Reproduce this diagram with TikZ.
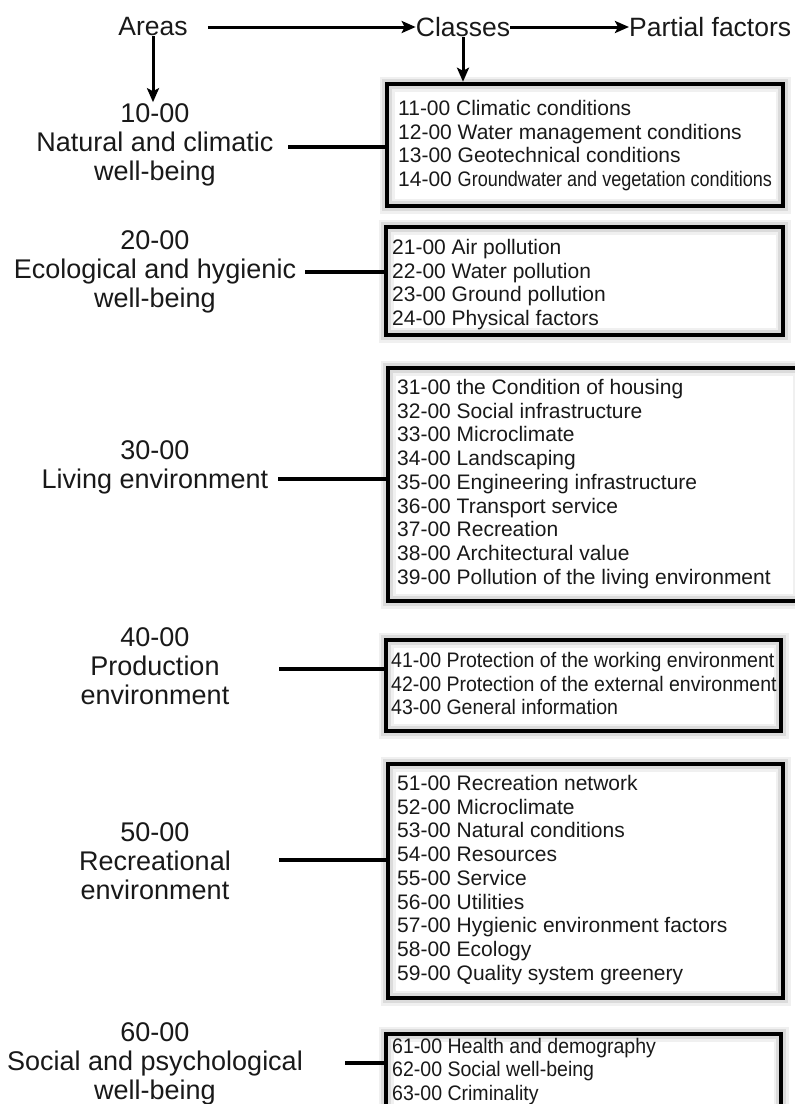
\documentclass[tikz,border=0pt]{standalone}
\usepackage{fontspec}
\setmainfont{Liberation Sans}
\newfontfamily\narrowsans[FakeStretch=0.93]{Liberation Sans}
\newfontfamily\tightsans[FakeStretch=0.86]{Liberation Sans}
\usetikzlibrary{arrows.meta, positioning}
\tikzstyle{head} = [inner sep=0, text=black!90, font=\fontsize{26.5}{30}\selectfont]
\tikzstyle{area} = [inner sep=0, anchor=base, text=black!90, font=\fontsize{27}{29}\selectfont]
\tikzstyle{classbox} = [rectangle, draw, line width=4.5pt, preaction={draw=black!6, line width=15pt}, preaction={draw=black!14, line width=9.5pt}]
\tikzstyle{classtext} = [inner sep=0, anchor=base west, text=black!90, font=\fontsize{21}{23.7}\selectfont]
\tikzstyle{link} = [line width=3.2pt]
\tikzstyle{flow} = [-{Stealth[length=14pt, width=12pt, inset=3pt]}, line width=3pt]

\begin{document}
\begin{tikzpicture}[x=1pt, y=-1pt]
  \path[use as bounding box, fill=white] (0,0) rectangle (795,1104);

  % 表头
  \node[head] (areas) at (153,27) {Areas};
  \node[head] (classes) at (463,27) {Classes};
  \node[head, anchor=west] (partial) at (629,27) {Partial factors};

  % 领域
  \node[area] (a1) at (155,122.7) {\begin{tabular}[t]{@{}c@{}}10-00\\ Natural and climatic\\ well-being\end{tabular}};
  \node[area] (a2) at (155,249.7) {\begin{tabular}[t]{@{}c@{}}20-00\\ Ecological and hygienic\\ well-being\end{tabular}};
  \node[area] (a3) at (155,459.7) {\begin{tabular}[t]{@{}c@{}}30-00\\ Living environment\end{tabular}};
  \node[area] (a4) at (155,646.7) {\begin{tabular}[t]{@{}c@{}}40-00\\ Production\\ environment\end{tabular}};
  \node[area] (a5) at (155,841.7) {\begin{tabular}[t]{@{}c@{}}50-00\\ Recreational\\ environment\end{tabular}};
  \node[area] (a6) at (155,1041.7) {\begin{tabular}[t]{@{}c@{}}60-00\\ Social and psychological\\ well-being\end{tabular}};

  % 类别框
  \node[classbox, minimum width=396pt, minimum height=122pt] (c1) at (585,145) {};
  \node[classbox, minimum width=397pt, minimum height=108pt] (c2) at (584.5,281) {};
  \node[classbox, minimum width=412pt, minimum height=233pt] (c3) at (594,484.5) {};
  \node[classbox, minimum width=395pt, minimum height=91pt] (c4) at (583.5,685.5) {};
  \node[classbox, minimum width=395pt, minimum height=234pt] (c5) at (585.5,881) {};
  \node[classbox, minimum width=395pt, minimum height=106pt] (c6) at (583.5,1087) {};

  \node[classtext] (t1) at (398,115.5) {\begin{tabular}[t]{@{}l@{}}11-00 Climatic conditions\\ 12-00 Water management conditions\\ 13-00 Geotechnical conditions\\ 14-00 {\tightsans Groundwater and vegetation conditions}\end{tabular}};
  \node[classtext] (t2) at (392,254.5) {\begin{tabular}[t]{@{}l@{}}21-00 Air pollution\\ 22-00 Water pollution\\ 23-00 Ground pollution\\ 24-00 Physical factors\end{tabular}};
  \node[classtext] (t3) at (397,394.5) {\begin{tabular}[t]{@{}l@{}}31-00 the Condition of housing\\ 32-00 Social infrastructure\\ 33-00 Microclimate\\ 34-00 Landscaping\\ 35-00 Engineering infrastructure\\ 36-00 Transport service\\ 37-00 Recreation\\ 38-00 Architectural value\\ 39-00 Pollution of the living environment\end{tabular}};
  \node[classtext] (t4) at (391,667.5) {\narrowsans\begin{tabular}[t]{@{}l@{}}41-00 Protection of the working environment\\ 42-00 Protection of the external environment\\ 43-00 General information\end{tabular}};
  \node[classtext] (t5) at (397,790.5) {\begin{tabular}[t]{@{}l@{}}51-00 Recreation network\\ 52-00 Microclimate\\ 53-00 Natural conditions\\ 54-00 Resources\\ 55-00 Service\\ 56-00 Utilities\\ 57-00 Hygienic environment factors\\ 58-00 Ecology\\ 59-00 Quality system greenery\end{tabular}};
  \node[classtext] (t6) at (392,1053) {\narrowsans\begin{tabular}[t]{@{}l@{}}61-00 Health and demography\\ 62-00 Social well-being\\ 63-00 Criminality\end{tabular}};

  % 箭头
  \draw[flow] ([xshift=20pt]areas.east) -- (classes.west);
  \draw[flow] (classes.east) -- (partial.west);
  \draw[flow] (areas.south) -- (areas.south |- a1.north);
  \draw[flow] (classes.south) -- (classes.south |- c1.north);

  % 连线
  \coordinate (l1) at (288,147);
  \coordinate (l2) at (305,272);
  \coordinate (l3) at (278,479);
  \coordinate (l4) at (279,669);
  \coordinate (l5) at (279,860);
  \coordinate (l6) at (345,1063);
  \draw[link] (l1) -- (l1 -| c1.west);
  \draw[link] (l2) -- (l2 -| c2.west);
  \draw[link] (l3) -- (l3 -| c3.west);
  \draw[link] (l4) -- (l4 -| c4.west);
  \draw[link] (l5) -- (l5 -| c5.west);
  \draw[link] (l6) -- (l6 -| c6.west);
\end{tikzpicture}
\end{document}
